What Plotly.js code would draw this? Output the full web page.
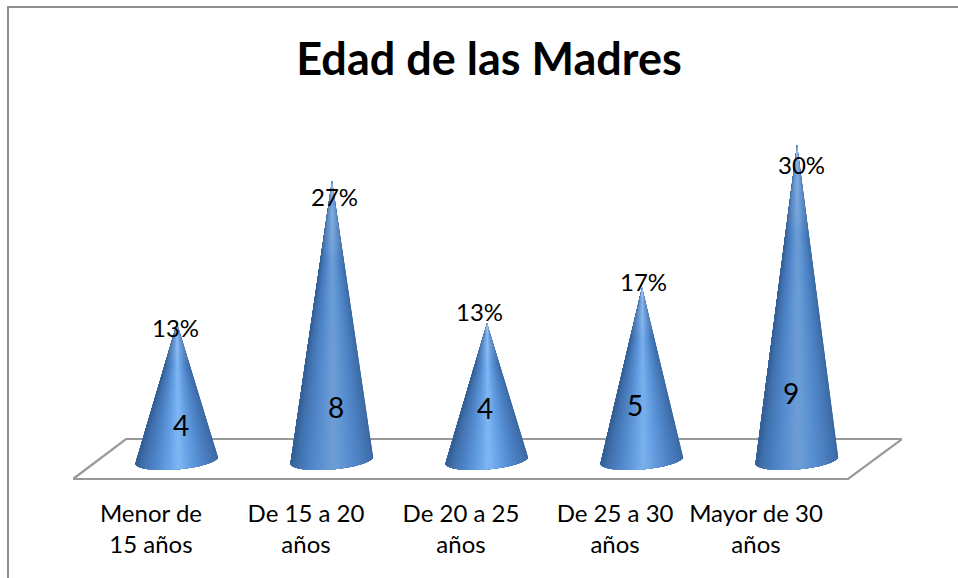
<!DOCTYPE html>
<html><head><meta charset="utf-8">
<script src="https://cdn.plot.ly/plotly-3.0.1.min.js"></script>
<style>html,body{margin:0;padding:0;background:#fff;overflow:hidden}#chart{width:958px;height:578px}</style>
</head><body><div id="chart"></div>
<script>
// ---- data ----
const categories = ["Menor de<br>15 años","De 15 a 20<br>años","De 20 a 25<br>años","De 25 a 30<br>años","Mayor de 30<br>años"];
const values = [4, 8, 4, 5, 9];
const percents = ["13%","27%","13%","17%","30%"];
const chartTitle = "Edad de las Madres";

// ---- layout constants ----
const W = 958, H = 578, M = {l:73, r:56, t:109, b:90};
const FONT = "Lato, 'Open Sans', sans-serif";
const xRange = [-0.671, 4.677], yRange = [-0.616, 10];
const pxX = (W-M.l-M.r)/(xRange[1]-xRange[0]), pxY = (H-M.t-M.b)/(yRange[1]-yRange[0]);
const coneHalfWidth = 41.5/pxX, coneCentreY = 6/pxY, ellB = 9.4/pxY, ellTilt = 3.5/pxY;
const tickShift = [-0.168,-0.168,-0.168,-0.174,-0.265];
const pctNudge = [[-2,-4],[2,-16],[-8,12],[1,6],[4,-20]];
const valNudge = [[4,-30],[4,-84],[-2,-13],[-7,-28],[-6,-88]];
const shadeStops = [[0,[54,98,154]],[0.12,[64,112,172]],[0.32,[74,126,192]],[0.5,[84,140,208]],[0.72,[100,158,226]],[0.92,[120,176,240]],[1,[126,182,246]]];
const SEG = 48;

function shade(u, tall){
  let c = shadeStops[shadeStops.length-1][1];
  for(let i=1;i<shadeStops.length;i++){
    if(u<=shadeStops[i][0]){
      const a=shadeStops[i-1], b=shadeStops[i], f=(u-a[0])/(b[0]-a[0]);
      c=a[1].map((v,k)=>v+(b[1][k]-v)*f); break;
    }
  }
  const dim = 1-0.14*tall*Math.pow(u,2);
  return 'rgb('+c.map(v=>Math.round(v*dim)).join(',')+')';
}

const traces = [];
values.forEach((v,i)=>{
  const rim = t => [i + coneHalfWidth*Math.cos(t), coneCentreY + ellTilt*Math.cos(t) - ellB*Math.sin(t)];
  const tall = Math.min(1,(v-4)/4);
  for(let s=0;s<SEG;s++){
    // painter's order: each polygon covers the rest of the cone, so no seams show
    const xs=[i], ys=[v];
    for(let k=s;k<=SEG;k++){ const p=rim(Math.PI*k/SEG); xs.push(p[0]); ys.push(p[1]); }
    xs.push(i); ys.push(v);
    const tm=Math.PI*(s+0.5)/SEG;
    const col=shade(1-Math.abs(Math.cos(tm)-0.04), tall);
    traces.push({type:'scatter',mode:'lines',x:xs,y:ys,fill:'toself',fillcolor:col,line:{width:0},hoverinfo:'skip',showlegend:false});
  }
  // pale tip overlay
  const xs=[i], ys=[v];
  for(let k=0;k<=SEG;k++){ const p=rim(Math.PI*k/SEG); xs.push(p[0]); ys.push(p[1]); }
  xs.push(i); ys.push(v);
  traces.push({type:'scatter',mode:'lines',x:xs,y:ys,fill:'toself',line:{width:0},hoverinfo:'skip',showlegend:false,
    fillgradient:{type:'vertical',colorscale:[[0,'rgba(255,255,255,0)'],[0.72,'rgba(255,255,255,0)'],[0.92,'rgba(170,205,245,0.3)'],[1,'rgba(190,215,245,0.8)']]}});
});

const annotations = [];
values.forEach((v,i)=>{
  annotations.push({x:i,y:v,xref:'x',yref:'y',text:percents[i],showarrow:false,xshift:pctNudge[i][0],yshift:pctNudge[i][1],font:{family:FONT,size:24,color:'#000'}});
  annotations.push({x:i,y:v/2,xref:'x',yref:'y',text:String(v),showarrow:false,xshift:valNudge[i][0],yshift:valNudge[i][1],font:{family:FONT,size:28,color:'#000'}});
});

const X = p => (p-M.l)/(W-M.l-M.r), Y = p => 1-(p-M.t)/(H-M.t-M.b);
const floorPath = (()=>{
  const fx=[-0.671,-0.329,4.677,4.329], fy=[-0.364,0.756,0.756,-0.364];
  return 'M'+fx.map((x,k)=>x+','+fy[k]).join(' L')+' Z';
})();
const shapes = [
  {type:'path',xref:'x',yref:'y',path:floorPath,line:{color:'#999999',width:2.2},fillcolor:'#ffffff',layer:'below'},
  {type:'line',xref:'paper',yref:'paper',x0:X(8),x1:X(8),y0:Y(6),y1:Y(578),line:{color:'#8f8f8f',width:2}},
  {type:'line',xref:'paper',yref:'paper',x0:X(7),x1:X(958),y0:Y(7),y1:Y(7),line:{color:'#8f8f8f',width:2}}
];

const layout = {
  width:W,height:H,margin:{l:M.l,r:M.r,t:M.t,b:M.b,pad:0},paper_bgcolor:'#fff',plot_bgcolor:'rgba(0,0,0,0)',showlegend:false,
  title:{text:'<b>'+chartTitle+'</b>',font:{family:FONT,size:45,color:'#000'},x:489/W,xanchor:'center',y:1-59/H,yanchor:'middle'},
  xaxis:{range:xRange,tickmode:'array',tickvals:values.map((_,i)=>i+tickShift[i]),ticktext:categories,showgrid:false,zeroline:false,showline:false,ticks:'',
    tickangle:0,ticklabelstandoff:9,tickfont:{family:FONT,size:24,color:'#000'},fixedrange:true},
  yaxis:{range:yRange,visible:false,showgrid:false,zeroline:false,fixedrange:true},
  annotations,shapes
};
Plotly.newPlot('chart',traces,layout,{displayModeBar:false,staticPlot:true});
</script></body></html>
